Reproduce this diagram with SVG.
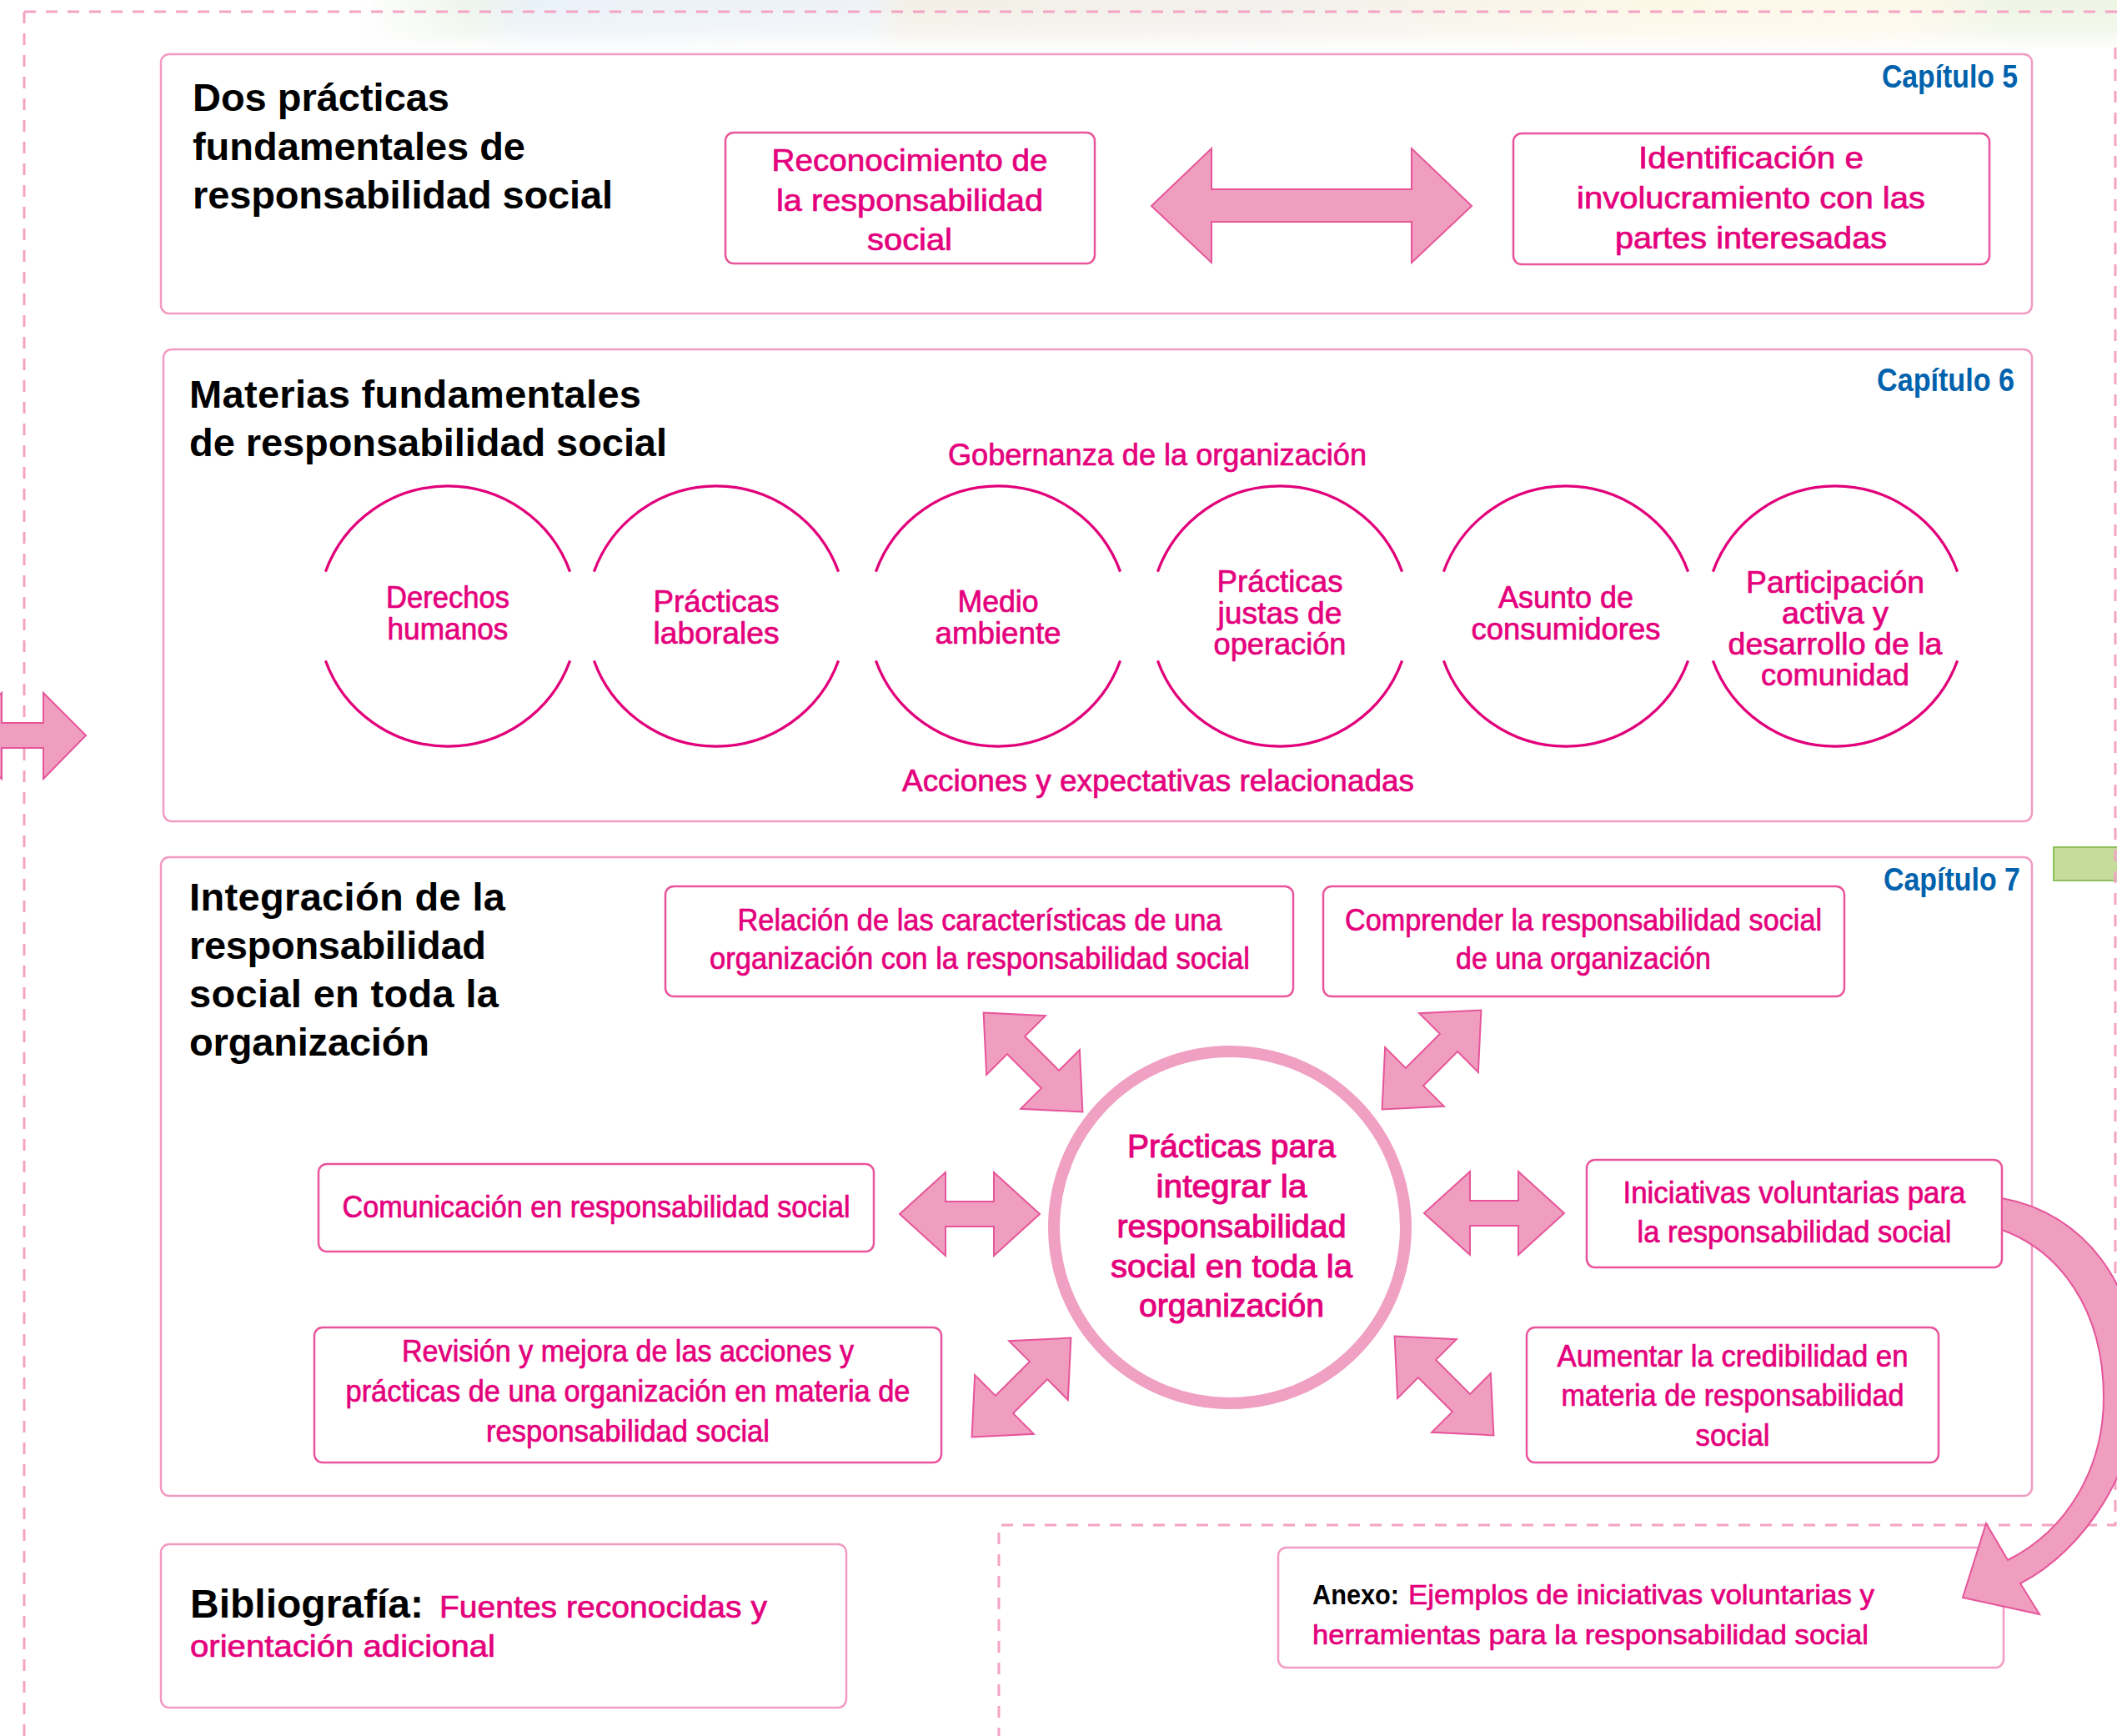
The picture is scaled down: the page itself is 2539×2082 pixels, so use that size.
<svg xmlns="http://www.w3.org/2000/svg" width="2539" height="2082" viewBox="0 0 2539 2082">
<style>
.panel{fill:#fff;stroke:#f29bc2;stroke-width:2.5}
.box{fill:#fff;stroke:#e9559b;stroke-width:2.5}
.dash{fill:none;stroke:#f4a3c4;stroke-width:3;stroke-dasharray:14 12}
.ttl{font-family:"Liberation Sans",Arial,sans-serif;font-weight:bold;font-size:47px;fill:#000}
.pk{font-family:"Liberation Sans",Arial,sans-serif;font-weight:normal;font-size:37px;fill:#e4007c;stroke:#e4007c;stroke-width:0.7}
.mid{text-anchor:middle}
.cap{font-family:"Liberation Sans",Arial,sans-serif;font-weight:bold;font-size:38px;fill:#0062ac;text-anchor:end}
.arr{fill:#f09ec0;stroke:#e6559a;stroke-width:2;stroke-linejoin:miter}
.ring{fill:none;stroke:#e2007a;stroke-width:3.2}
</style>
<defs>
<linearGradient id="bgH" x1="0" y1="0" x2="1" y2="0">
<stop offset="0" stop-color="#ffffff"/>
<stop offset="0.17" stop-color="#ffffff"/>
<stop offset="0.22" stop-color="#eef5ea"/>
<stop offset="0.25" stop-color="#e9f1f8"/>
<stop offset="0.41" stop-color="#eef2f6"/>
<stop offset="0.43" stop-color="#f3efe6"/>
<stop offset="0.6" stop-color="#f2f0ec"/>
<stop offset="0.78" stop-color="#fdf7e6"/>
<stop offset="0.9" stop-color="#fdf8ea"/>
<stop offset="0.95" stop-color="#eef5e4"/>
<stop offset="1" stop-color="#eef5e4"/>
</linearGradient>
<linearGradient id="bgV" x1="0" y1="0" x2="0" y2="1">
<stop offset="0" stop-color="#ffffff" stop-opacity="0"/>
<stop offset="0.6" stop-color="#ffffff" stop-opacity="0.3"/>
<stop offset="1" stop-color="#ffffff" stop-opacity="1"/>
</linearGradient>
<polygon id="dbl" points="-84,0 -29,-50 -29,-15 29,-15 29,-50 84,0 29,50 29,15 -29,15 -29,50"/>
</defs>
<rect x="0" y="0" width="2539" height="2082" fill="#ffffff"/>
<g id="background">
<rect x="0" y="0" width="2539" height="60" fill="url(#bgH)"/>
<rect x="0" y="0" width="2539" height="60" fill="url(#bgV)"/>
<rect x="2463" y="1016" width="80" height="40" fill="#c5dc9a" stroke="#8fbf5a" stroke-width="2"/>
</g>
<g id="frame">
<path class="dash" d="M29,14 H2539"/>
<path class="dash" d="M29,14 V2082"/>
<path class="dash" d="M2537,57 V1829 H1198 V2082"/>
</g>

<g id="panel-cap5">
<rect class="panel" x="193" y="65" width="2244" height="311" rx="10"/>
<text class="ttl" x="231" y="133" textLength="308">Dos prácticas</text>
<text class="ttl" x="231" y="192" textLength="399">fundamentales de</text>
<text class="ttl" x="231" y="250" textLength="504">responsabilidad social</text>
<text class="cap" x="2420" y="105" textLength="163" lengthAdjust="spacingAndGlyphs">Capítulo 5</text>
</g>
<g id="node-reconocimiento">
<rect class="box" x="870" y="159" width="443" height="157" rx="10"/>
<text class="pk mid" x="1091" y="205" textLength="331" lengthAdjust="spacingAndGlyphs">Reconocimiento de</text>
<text class="pk mid" x="1091" y="253" textLength="320" lengthAdjust="spacingAndGlyphs">la responsabilidad</text>
<text class="pk mid" x="1091" y="300" textLength="102" lengthAdjust="spacingAndGlyphs">social</text>
</g>
<g id="node-identificacion">
<rect class="box" x="1815" y="160" width="571" height="157" rx="10"/>
<text class="pk mid" x="2100" y="202" textLength="270" lengthAdjust="spacingAndGlyphs">Identificación e</text>
<text class="pk mid" x="2100" y="250" textLength="418" lengthAdjust="spacingAndGlyphs">involucramiento con las</text>
<text class="pk mid" x="2100" y="298" textLength="326" lengthAdjust="spacingAndGlyphs">partes interesadas</text>
</g>

<g id="panel-cap6">
<rect class="panel" x="196" y="419" width="2241" height="566" rx="10"/>
<text class="ttl" x="227" y="489" textLength="542">Materias fundamentales</text>
<text class="ttl" x="227" y="547" textLength="573">de responsabilidad social</text>
<text class="cap" x="2416" y="469" textLength="165" lengthAdjust="spacingAndGlyphs">Capítulo 6</text>
<text class="pk mid" x="1388" y="558" textLength="502" lengthAdjust="spacingAndGlyphs">Gobernanza de la organización</text>
<text class="pk mid" x="1389" y="949" textLength="614" lengthAdjust="spacingAndGlyphs">Acciones y expectativas relacionadas</text>
</g>
<g id="node-derechos">
<path class="ring" d="M390.4,685.6 A156,156 0 0 1 683.6,685.6 M683.6,792.4 A156,156 0 0 1 390.4,792.4"/>
<text class="pk mid" x="537" y="729" textLength="148" lengthAdjust="spacingAndGlyphs">Derechos</text>
<text class="pk mid" x="537" y="767" textLength="145" lengthAdjust="spacingAndGlyphs">humanos</text>
</g>
<g id="node-laborales">
<path class="ring" d="M712.4,685.6 A156,156 0 0 1 1005.6,685.6 M1005.6,792.4 A156,156 0 0 1 712.4,792.4"/>
<text class="pk mid" x="859" y="734" textLength="151" lengthAdjust="spacingAndGlyphs">Prácticas</text>
<text class="pk mid" x="859" y="772" textLength="151" lengthAdjust="spacingAndGlyphs">laborales</text>
</g>
<g id="node-medio">
<path class="ring" d="M1050.4,685.6 A156,156 0 0 1 1343.6,685.6 M1343.6,792.4 A156,156 0 0 1 1050.4,792.4"/>
<text class="pk mid" x="1197" y="734" textLength="97" lengthAdjust="spacingAndGlyphs">Medio</text>
<text class="pk mid" x="1197" y="772" textLength="151" lengthAdjust="spacingAndGlyphs">ambiente</text>
</g>
<g id="node-justas">
<path class="ring" d="M1388.4,685.6 A156,156 0 0 1 1681.6,685.6 M1681.6,792.4 A156,156 0 0 1 1388.4,792.4"/>
<text class="pk mid" x="1535" y="710" textLength="151" lengthAdjust="spacingAndGlyphs">Prácticas</text>
<text class="pk mid" x="1535" y="748" textLength="149" lengthAdjust="spacingAndGlyphs">justas de</text>
<text class="pk mid" x="1535" y="785" textLength="159" lengthAdjust="spacingAndGlyphs">operación</text>
</g>
<g id="node-consumidores">
<path class="ring" d="M1731.4,685.6 A156,156 0 0 1 2024.6,685.6 M2024.6,792.4 A156,156 0 0 1 1731.4,792.4"/>
<text class="pk mid" x="1878" y="729" textLength="162" lengthAdjust="spacingAndGlyphs">Asunto de</text>
<text class="pk mid" x="1878" y="767" textLength="227" lengthAdjust="spacingAndGlyphs">consumidores</text>
</g>
<g id="node-comunidad">
<path class="ring" d="M2054.4,685.6 A156,156 0 0 1 2347.6,685.6 M2347.6,792.4 A156,156 0 0 1 2054.4,792.4"/>
<text class="pk mid" x="2201" y="711" textLength="214" lengthAdjust="spacingAndGlyphs">Participación</text>
<text class="pk mid" x="2201" y="748" textLength="128" lengthAdjust="spacingAndGlyphs">activa y</text>
<text class="pk mid" x="2201" y="785" textLength="257" lengthAdjust="spacingAndGlyphs">desarrollo de la</text>
<text class="pk mid" x="2201" y="822" textLength="178" lengthAdjust="spacingAndGlyphs">comunidad</text>
</g>

<g id="panel-cap7">
<rect class="panel" x="193" y="1028" width="2244" height="766" rx="10"/>
<text class="ttl" x="227" y="1092" textLength="379">Integración de la</text>
<text class="ttl" x="227" y="1150" textLength="356">responsabilidad</text>
<text class="ttl" x="227" y="1208" textLength="371">social en toda la</text>
<text class="ttl" x="227" y="1266" textLength="288">organización</text>
<text class="cap" x="2423" y="1068" textLength="164" lengthAdjust="spacingAndGlyphs">Capítulo 7</text>
</g>
<g id="node-relacion">
<rect class="box" x="798" y="1063" width="753" height="132" rx="10"/>
<text class="pk mid" x="1175" y="1116" textLength="581" lengthAdjust="spacingAndGlyphs">Relación de las características de una</text>
<text class="pk mid" x="1175" y="1162" textLength="648" lengthAdjust="spacingAndGlyphs">organización con la responsabilidad social</text>
</g>
<g id="node-comprender">
<rect class="box" x="1587" y="1063" width="625" height="132" rx="10"/>
<text class="pk mid" x="1899" y="1116" textLength="572" lengthAdjust="spacingAndGlyphs">Comprender la responsabilidad social</text>
<text class="pk mid" x="1899" y="1162" textLength="306" lengthAdjust="spacingAndGlyphs">de una organización</text>
</g>
<g id="node-comunicacion">
<rect class="box" x="382" y="1396" width="666" height="105" rx="10"/>
<text class="pk mid" x="715" y="1460" textLength="609" lengthAdjust="spacingAndGlyphs">Comunicación en responsabilidad social</text>
</g>
<g id="node-iniciativas">
<rect class="box" x="1903" y="1391" width="498" height="129" rx="10"/>
<text class="pk mid" x="2152" y="1443" textLength="411" lengthAdjust="spacingAndGlyphs">Iniciativas voluntarias para</text>
<text class="pk mid" x="2152" y="1490" textLength="377" lengthAdjust="spacingAndGlyphs">la responsabilidad social</text>
</g>
<g id="node-revision">
<rect class="box" x="377" y="1592" width="752" height="162" rx="10"/>
<text class="pk mid" x="753" y="1633" textLength="542" lengthAdjust="spacingAndGlyphs">Revisión y mejora de las acciones y</text>
<text class="pk mid" x="753" y="1681" textLength="677" lengthAdjust="spacingAndGlyphs">prácticas de una organización en materia de</text>
<text class="pk mid" x="753" y="1729" textLength="340" lengthAdjust="spacingAndGlyphs">responsabilidad social</text>
</g>
<g id="node-credibilidad">
<rect class="box" x="1831" y="1592" width="494" height="162" rx="10"/>
<text class="pk mid" x="2078" y="1639" textLength="421" lengthAdjust="spacingAndGlyphs">Aumentar la credibilidad en</text>
<text class="pk mid" x="2078" y="1686" textLength="411" lengthAdjust="spacingAndGlyphs">materia de responsabilidad</text>
<text class="pk mid" x="2078" y="1734" textLength="89" lengthAdjust="spacingAndGlyphs">social</text>
</g>
<g id="node-center">
<circle cx="1475" cy="1472" r="211" fill="#fff" stroke="#f0a0c2" stroke-width="14"/>
<text class="pk mid" x="1477" y="1388" textLength="250" lengthAdjust="spacingAndGlyphs" style="font-size:38px;stroke-width:1">Prácticas para</text>
<text class="pk mid" x="1477" y="1436" textLength="181" lengthAdjust="spacingAndGlyphs" style="font-size:38px;stroke-width:1">integrar la</text>
<text class="pk mid" x="1477" y="1484" textLength="275" lengthAdjust="spacingAndGlyphs" style="font-size:38px;stroke-width:1">responsabilidad</text>
<text class="pk mid" x="1477" y="1532" textLength="290" lengthAdjust="spacingAndGlyphs" style="font-size:38px;stroke-width:1">social en toda la</text>
<text class="pk mid" x="1477" y="1579" textLength="222" lengthAdjust="spacingAndGlyphs" style="font-size:38px;stroke-width:1">organización</text>
</g>

<g id="node-bibliografia">
<rect class="panel" x="193" y="1852" width="822" height="196" rx="10"/>
<text class="ttl" x="228" y="1940" textLength="280" style="font-size:48px">Bibliografía:</text>
<text class="pk" x="527" y="1940" textLength="393" lengthAdjust="spacingAndGlyphs">Fuentes reconocidas y</text>
<text class="pk" x="228" y="1987" textLength="366" lengthAdjust="spacingAndGlyphs">orientación adicional</text>
</g>
<g id="node-anexo">
<rect class="panel" x="1533" y="1856" width="870" height="144" rx="10"/>
<text class="ttl" x="1574" y="1924" textLength="104" lengthAdjust="spacingAndGlyphs" style="font-size:33px">Anexo:</text>
<text class="pk" x="1689" y="1924" textLength="559" lengthAdjust="spacingAndGlyphs" style="font-size:34px">Ejemplos de iniciativas voluntarias y</text>
<text class="pk" x="1574" y="1972" textLength="667" lengthAdjust="spacingAndGlyphs" style="font-size:34px">herramientas para la responsabilidad social</text>
</g>

<g id="connectors">
<polygon class="arr" points="1381,247 1453,178 1453,227 1693,227 1693,178 1765,247 1693,315 1693,266 1453,266 1453,315"/>
<use href="#dbl" class="arr" transform="translate(1163,1456)"/>
<use href="#dbl" class="arr" transform="translate(1792,1455)"/>
<use href="#dbl" class="arr" transform="translate(1239,1274) rotate(45)"/>
<use href="#dbl" class="arr" transform="translate(1717,1271) rotate(-45)"/>
<use href="#dbl" class="arr" transform="translate(1225,1664) rotate(-45)"/>
<use href="#dbl" class="arr" transform="translate(1732,1662) rotate(45)"/>
<polygon class="arr" points="-50,882 2,831 2,867 52,867 52,831 103,882 52,934 52,897 2,897 2,934"/>
<path class="arr" d="M2401,1437 C2500,1455 2565,1540 2565,1660 C2565,1760 2500,1860 2423,1899 L2446,1936 L2354,1916 L2382,1827 L2408,1871 C2480,1835 2523,1760 2523,1676 C2523,1570 2470,1500 2401,1475 Z"/>
</g>
</svg>
